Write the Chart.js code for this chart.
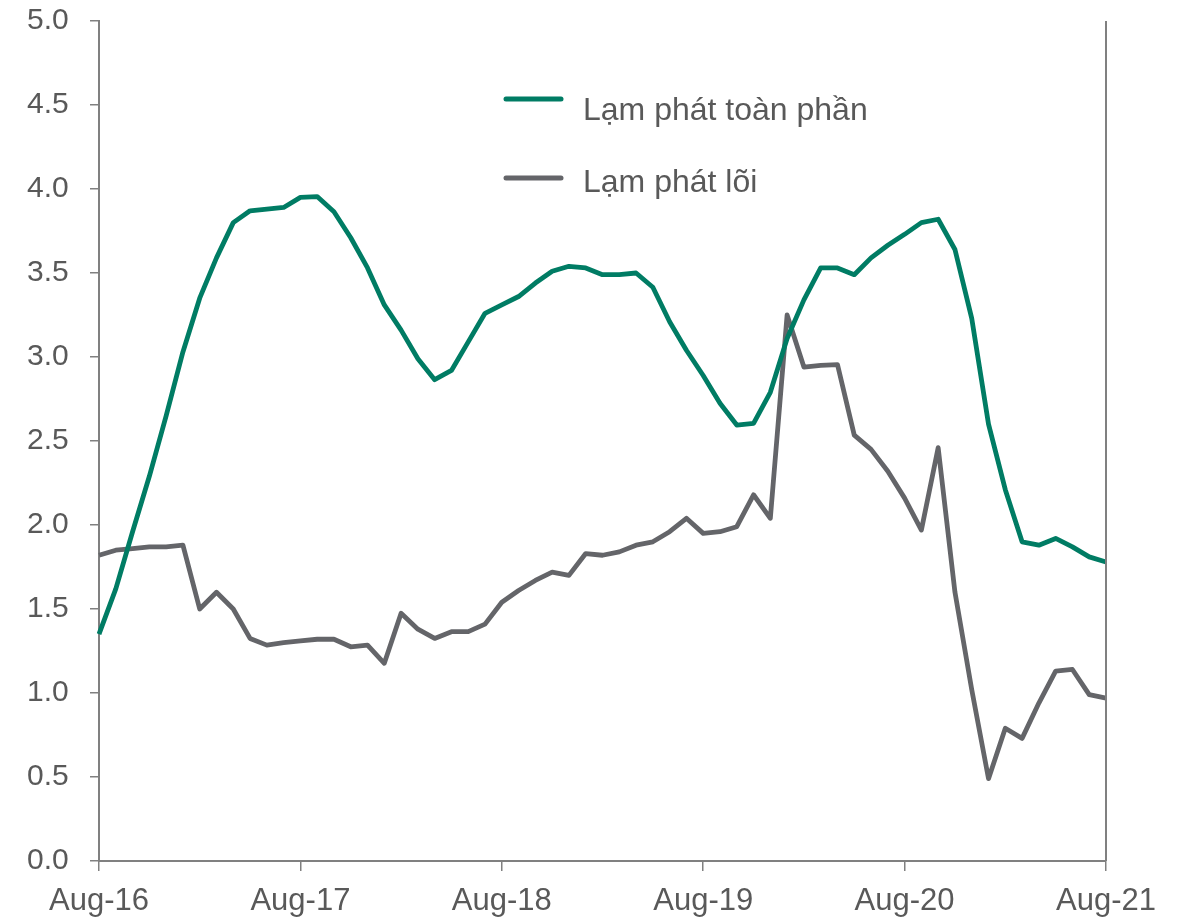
<!DOCTYPE html>
<html>
<head>
<meta charset="utf-8">
<script src="https://cdn.jsdelivr.net/npm/chart.js@4/dist/chart.umd.min.js"></script>
<style>
  html, body { margin: 0; padding: 0; background: #fff; }
  #wrap { width: 1181px; height: 919px; }
</style>
</head>
<body>
<div id="wrap"><canvas id="chart" width="1181" height="919"></canvas></div>
<script>
// monthly, Aug-16 .. Aug-21
const months = [
  "Aug-16","Sep-16","Oct-16","Nov-16","Dec-16",
  "Jan-17","Feb-17","Mar-17","Apr-17","May-17","Jun-17","Jul-17","Aug-17","Sep-17","Oct-17","Nov-17","Dec-17",
  "Jan-18","Feb-18","Mar-18","Apr-18","May-18","Jun-18","Jul-18","Aug-18","Sep-18","Oct-18","Nov-18","Dec-18",
  "Jan-19","Feb-19","Mar-19","Apr-19","May-19","Jun-19","Jul-19","Aug-19","Sep-19","Oct-19","Nov-19","Dec-19",
  "Jan-20","Feb-20","Mar-20","Apr-20","May-20","Jun-20","Jul-20","Aug-20","Sep-20","Oct-20","Nov-20","Dec-20",
  "Jan-21","Feb-21","Mar-21","Apr-21","May-21","Jun-21","Jul-21","Aug-21"
];

const headline = [
  1.35, 1.62, 1.96, 2.29, 2.65, 3.03, 3.35, 3.59, 3.80, 3.87, 3.88, 3.89,
  3.95, 3.955, 3.865, 3.71, 3.53, 3.31, 3.16, 2.99, 2.865, 2.92, 3.09, 3.26,
  3.31, 3.36, 3.44, 3.51, 3.54, 3.53, 3.49, 3.49, 3.50, 3.415, 3.21, 3.04,
  2.89, 2.725, 2.595, 2.605, 2.79, 3.11, 3.34, 3.53, 3.53, 3.49, 3.59, 3.665,
  3.73, 3.80, 3.82, 3.64, 3.23, 2.60, 2.21, 1.90, 1.88, 1.92, 1.87, 1.81, 1.78
];

const core = [
  1.82, 1.85, 1.86, 1.87, 1.87, 1.88, 1.50, 1.60, 1.50, 1.325, 1.285, 1.30,
  1.31, 1.32, 1.32, 1.275, 1.285, 1.177, 1.475, 1.38, 1.325, 1.365, 1.365, 1.41,
  1.54, 1.61, 1.67, 1.72, 1.70, 1.83, 1.82, 1.84, 1.88, 1.90, 1.96, 2.04,
  1.95, 1.96, 1.99, 2.18, 2.04, 3.25, 2.94, 2.95, 2.955, 2.535, 2.45, 2.32,
  2.16, 1.97, 2.46, 1.60, 1.02, 0.49, 0.79, 0.73, 0.94, 1.13, 1.14, 0.99, 0.97
];

const seriesNames = ["Lạm phát toàn phần", "Lạm phát lõi"];
const yTicks = [0, 0.5, 1, 1.5, 2, 2.5, 3, 3.5, 4, 4.5, 5];

const green = "#007c64";
const grey = "#646569";
const axisCol = "#808080";
const textCol = "#595959";
const fontFam = "'Liberation Sans', Arial, sans-serif";

// right frame line + legend drawn inside the plot
const extras = {
  id: "extras",
  afterDatasetsDraw(chart) {
    const { ctx, chartArea } = chart;
    ctx.save();
    ctx.strokeStyle = axisCol;
    ctx.lineWidth = 2;
    ctx.beginPath();
    ctx.moveTo(chartArea.right, chartArea.top);
    ctx.lineTo(chartArea.right, chartArea.bottom);
    ctx.stroke();

    const lineY = [99, 178];
    const textY = [120, 192];
    chart.data.datasets.forEach((ds, i) => {
      ctx.strokeStyle = ds.borderColor;
      ctx.lineWidth = 5;
      ctx.lineCap = "round";
      ctx.beginPath();
      ctx.moveTo(506, lineY[i]);
      ctx.lineTo(561, lineY[i]);
      ctx.stroke();
      ctx.fillStyle = textCol;
      ctx.font = "32px " + fontFam;
      ctx.textBaseline = "alphabetic";
      ctx.textAlign = "left";
      ctx.fillText(ds.label, 583, textY[i]);
    });
    ctx.restore();
  }
};

new Chart(document.getElementById("chart"), {
  type: "line",
  data: {
    labels: months,
    datasets: [
      { label: seriesNames[0], data: headline, borderColor: green },
      { label: seriesNames[1], data: core, borderColor: grey }
    ]
  },
  options: {
    responsive: false,
    devicePixelRatio: 1,
    animation: false,
    layout: { padding: { top: 21, right: 75, left: 27, bottom: 0 } },
    elements: {
      line: { borderWidth: 4.8, tension: 0, borderJoinStyle: "round", borderCapStyle: "butt" },
      point: { radius: 0 }
    },
    plugins: { legend: { display: false }, tooltip: { enabled: false } },
    scales: {
      x: {
        offset: false,
        border: { color: axisCol, width: 2 },
        grid: {
          drawOnChartArea: false,
          tickLength: 10,
          lineWidth: 1.5,
          color: (c) => (c.index % 12 === 0 ? axisCol : "rgba(0,0,0,0)")
        },
        ticks: {
          autoSkip: false,
          maxRotation: 0,
          padding: 12,
          color: textCol,
          font: { family: fontFam, size: 31 },
          callback: (v, i) => (i % 12 === 0 ? months[i] : "")
        },
        afterFit: (s) => { s.height = 58; }
      },
      y: {
        min: 0,
        max: 5,
        afterBuildTicks: (s) => { s.ticks = yTicks.map((v) => ({ value: v })); },
        border: { color: axisCol, width: 2 },
        grid: { drawOnChartArea: false, tickLength: 9, lineWidth: 1.5, color: axisCol },
        ticks: {
          padding: 0,
          crossAlign: "far",
          color: textCol,
          font: { family: fontFam, size: 30 },
          callback: (v) => v.toFixed(1)
        },
        afterFit: (s) => { s.width = 72; }
      }
    }
  },
  plugins: [extras]
});
</script>
</body>
</html>
